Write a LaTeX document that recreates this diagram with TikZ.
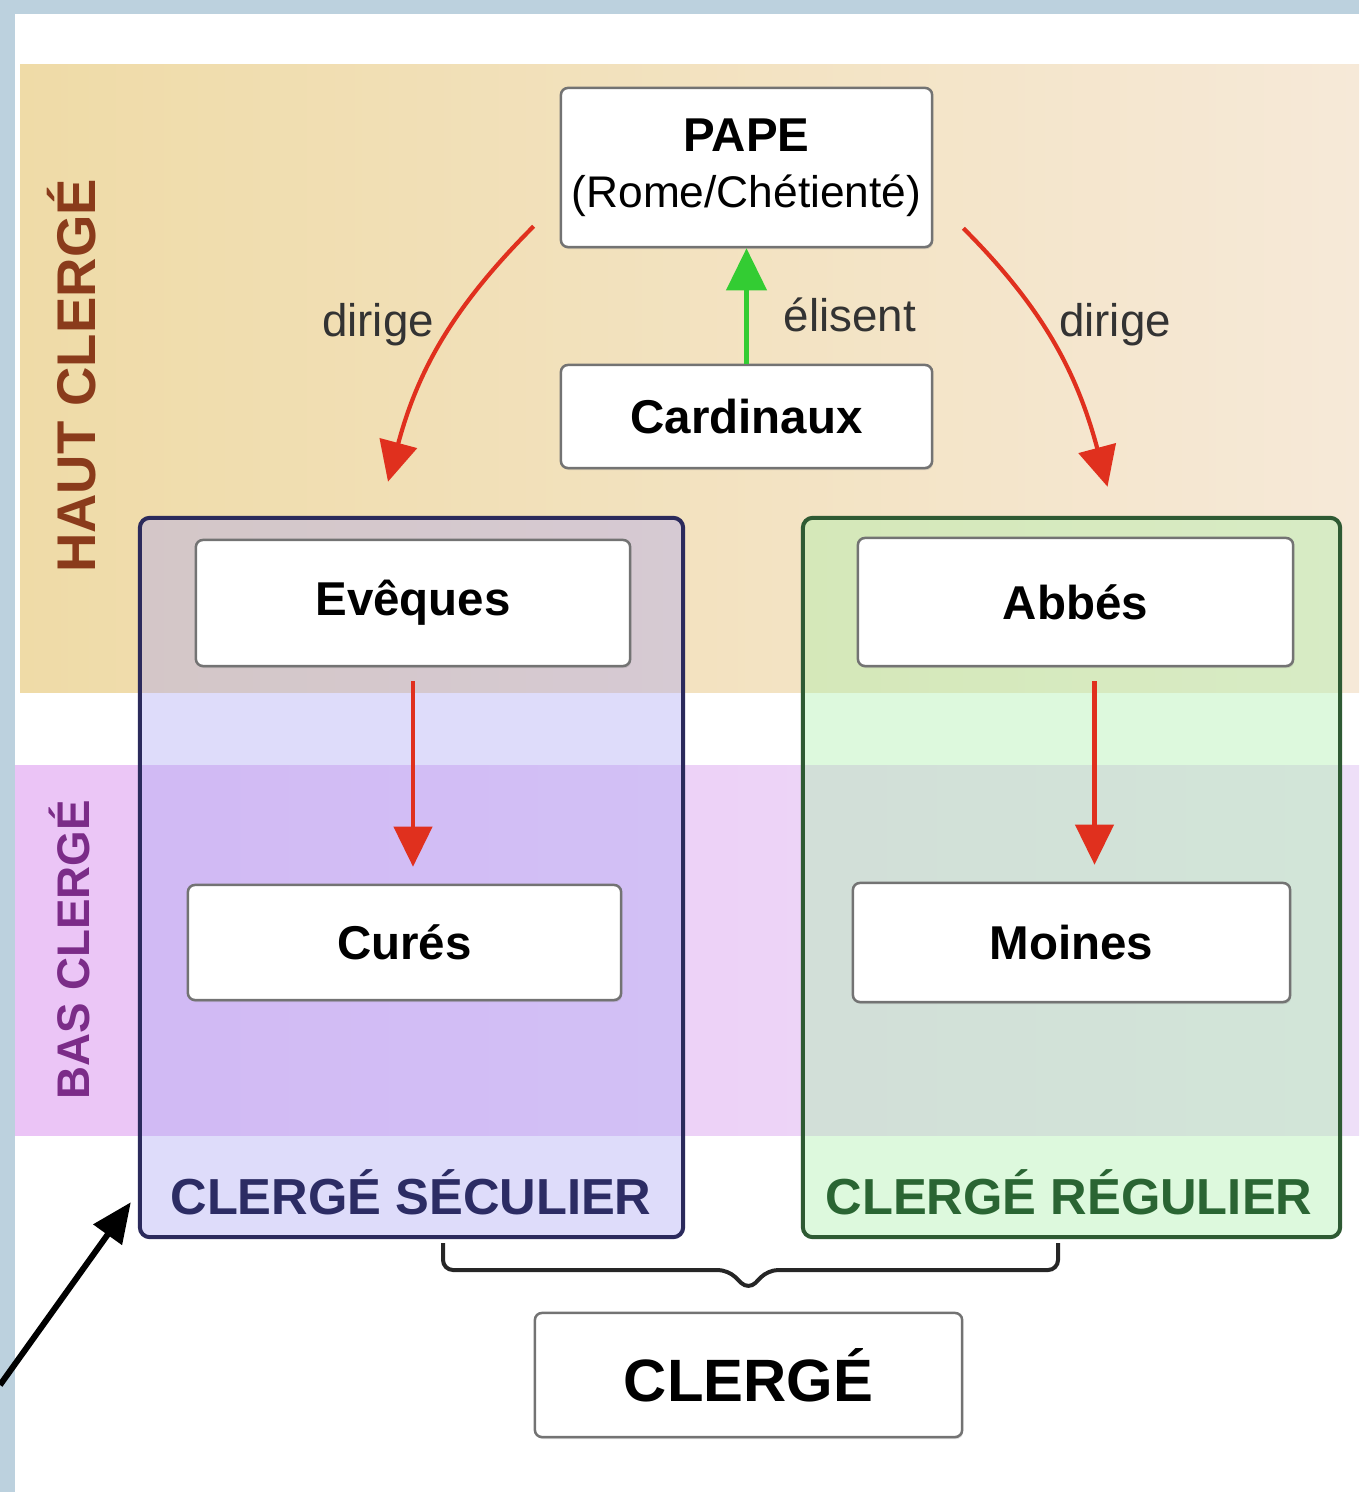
\documentclass[tikz,border=0pt]{standalone}
\usepackage{fontspec}
\setmainfont{Liberation Sans}
\usetikzlibrary{arrows.meta,calc,shadows}

\definecolor{framebl}{HTML}{BCD1DE}
\definecolor{hautL}{HTML}{EFDBA7}
\definecolor{hautR}{HTML}{F6E9D8}
\definecolor{basL}{HTML}{EBC4F6}
\definecolor{basR}{HTML}{EEDFF8}
\definecolor{secfill}{RGB}{172,167,242}
\definecolor{secline}{HTML}{2B2A5C}
\definecolor{regfill}{RGB}{170,240,170}
\definecolor{regline}{HTML}{2E5A33}
\definecolor{arrowred}{HTML}{E0301E}
\definecolor{elisgreen}{HTML}{33CC33}
\definecolor{hautbrown}{HTML}{8A3B1B}
\definecolor{baspurple}{HTML}{7B2C88}
\definecolor{secblue}{HTML}{2C2C64}
\definecolor{reggreen}{HTML}{2A6533}

\begin{document}
\begin{tikzpicture}[x=0.01cm,y=0.01cm,
  rank/.style={draw=black!55,line width=0.025cm,rounded corners=0.07cm,fill=white,inner sep=0pt,
    font=\bfseries\fontsize{13.5}{16}\selectfont,
    drop shadow={shadow xshift=0.01cm,shadow yshift=-0.02cm,opacity=0.25}},
  group/.style={line width=0.04cm,rounded corners=0.1cm,inner sep=0pt,fill opacity=0.4},
  dirarrow/.style={-{Triangle[length=0.4cm,width=0.38cm]},line width=0.042cm,draw=arrowred},
  verb/.style={text=black!80,font=\fontsize{13}{16}\selectfont},
  clergebrace/.style={line width=0.04cm,draw=black!85,rounded corners=0.1cm}]
  \useasboundingbox (0,0) rectangle (1359,-1492);

  % frame and bands
  \fill[framebl] (0,0) rectangle (1359,-14);
  \fill[framebl] (0,0) rectangle (15,-1492);
  \shade[left color=hautL,right color=hautR] (20,-65) rectangle (1359,-692);
  \shade[left color=basL,right color=basR] (15,-765) rectangle (1359,-1135);

  \node[rotate=90,text=hautbrown,font=\bfseries\fontsize{15.5}{18}\selectfont] (haut) at (72,-376) {HAUT CLERGÉ};
  \node[rotate=90,text=baspurple,font=\bfseries\fontsize{13}{16}\selectfont] (bas) at (69,-950) {BAS CLERGÉ};

  % clergé séculier / régulier
  \node[group,draw=secline,fill=secfill,minimum width=5.43cm,minimum height=7.19cm] (Seculier) at (411.5,-877.5) {};
  \node[group,draw=regline,fill=regfill,minimum width=5.37cm,minimum height=7.19cm] (Regulier) at (1071.5,-877.5) {};
  \node[text=secblue,font=\bfseries\fontsize{14.4}{17}\selectfont] (SecLabel) at (411,-1192) {CLERGÉ SÉCULIER};
  \node[text=reggreen,font=\bfseries\fontsize{14.4}{17}\selectfont] (RegLabel) at (1069,-1192) {CLERGÉ RÉGULIER};

  % ranks
  \node[rank,minimum width=3.71cm,minimum height=1.59cm,align=center] (Pape) at (746.5,-167.5)
    {PAPE\\{\mdseries\fontsize{12.6}{15}\selectfont (Rome/Chétienté)}};
  \node[rank,minimum width=3.71cm,minimum height=1.03cm] (Cardinaux) at (746.5,-416.5) {Cardinaux};
  \node[rank,minimum width=4.34cm,minimum height=1.26cm] (Eveques) at (413,-603) {Evêques};
  \node[rank,minimum width=4.35cm,minimum height=1.28cm] (Abbes) at (1075.5,-602) {Abbés};
  \node[rank,minimum width=4.33cm,minimum height=1.15cm] (Cures) at (404.5,-942.5) {Curés};
  \node[rank,minimum width=4.37cm,minimum height=1.19cm] (Moines) at (1071.5,-942.5) {Moines};
  \node[rank,minimum width=4.27cm,minimum height=1.24cm,font=\bfseries\fontsize{17}{20}\selectfont] (Clerge) at (748.5,-1375) {CLERGÉ};

  % arrows
  \draw[dirarrow] ($(Pape.south west)+(-26,22)$) to[out=225,in=75] ($(Eveques.north)+(-25,57)$);
  \draw[dirarrow] ($(Pape.south east)+(30,20)$) to[out=-45,in=105] ($(Abbes.north)+(32,50)$);
  \node[verb] (dirigeL) at (378,-325) {dirige};
  \node[verb] (dirigeR) at (1115,-325) {dirige};

  \draw[-{Triangle[length=0.42cm,width=0.4cm]},line width=0.042cm,draw=elisgreen]
    (Cardinaux.north) -- (Pape.south);
  \node[verb] (elisent) at (850,-315) {élisent};

  \draw[dirarrow] ($(Eveques.south)+(0,-14)$) -- ($(Eveques.south |- Cures.north)+(0,17)$);
  \draw[dirarrow] ($(Abbes.south)+(19,-14)$) -- ($(Abbes.south |- Moines.north)+(19,17)$);

  % brace and pointer
  \draw[clergebrace] (443,-1243) |- (728,-1270) -- (Clerge.north |- 0,-1290) -- (768,-1270) -| (1058,-1243);
  \coordinate (pointer) at (0,-1385);
  \draw[-{Triangle[length=0.4cm,width=0.34cm]},line width=0.06cm] (pointer) -- ($(Seculier.south west)+(-7,37)$);
\end{tikzpicture}
\end{document}
